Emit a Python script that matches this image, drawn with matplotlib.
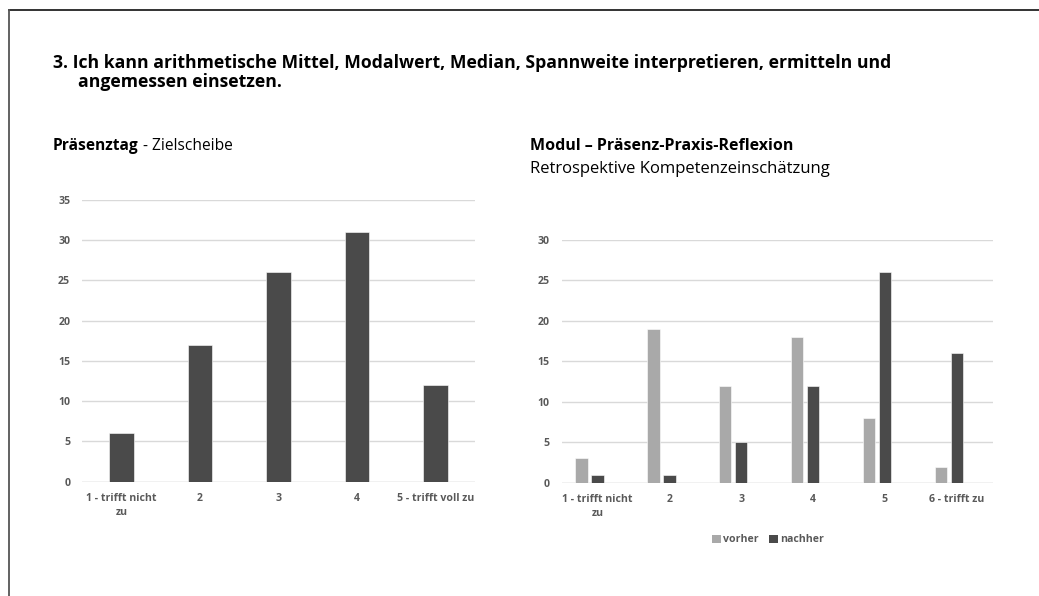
import matplotlib
matplotlib.use("Agg")
import matplotlib.pyplot as plt
import numpy as np
from matplotlib.patches import Patch
from matplotlib.lines import Line2D

plt.rcParams['font.family'] = ['Open Sans', 'DejaVu Sans']

# --- data ---------------------------------------------------------------
left_categories = ["1 - trifft nicht\nzu", "2", "3", "4", "5 - trifft voll zu"]
left_values = [6, 17, 26, 31, 12]

right_categories = ["1 - trifft nicht\nzu", "2", "3", "4", "5", "6 - trifft zu"]
vorher = [3, 19, 12, 18, 8, 2]
nachher = [1, 1, 5, 12, 26, 16]
series_names = ["vorher", "nachher"]

main_title_1 = "3. Ich kann arithmetische Mittel, Modalwert, Median, Spannweite interpretieren, ermitteln und"
main_title_2 = "angemessen einsetzen."

# --- styling ------------------------------------------------------------
W, H = 1039, 596
DARK = "#4a4a4a"
LIGHT = "#a9a9a9"
GRID = "#d9d9d9"
TICK = "#595959"
TICK_FS = 7.6

fig = plt.figure(figsize=(W / 100, H / 100), dpi=100)
fig.patch.set_facecolor("white")
renderer = fig.canvas.get_renderer()


def px_rect(x0, y_top, x1, y_bottom):
    return [x0 / W, 1 - y_bottom / H, (x1 - x0) / W, (y_bottom - y_top) / H]


def fitted_text(x_px, y_px, s, width_px, **kw):
    """Place text at pixel position and scale its size to a given pixel width."""
    t = fig.text(x_px / W, 1 - y_px / H, s, fontsize=10, va="baseline", ha="left", **kw)
    w = t.get_window_extent(renderer).width
    t.set_fontsize(10 * width_px / w)
    return t


def style_axes(ax, ymax, step):
    ax.set_ylim(0, ymax)
    ax.set_yticks(np.arange(0, ymax + 1, step))
    ax.yaxis.grid(True, color=GRID, linewidth=1.0)
    ax.set_axisbelow(True)
    for s in ax.spines.values():
        s.set_visible(False)
    ax.tick_params(axis="both", length=0, colors=TICK, labelsize=TICK_FS)
    ax.tick_params(axis="y", pad=8.5)
    ax.tick_params(axis="x", pad=8)
    for lab in ax.get_yticklabels() + ax.get_xticklabels():
        lab.set_fontweight("bold")
        lab.set_linespacing(1.4)
    ax.axhline(0, color=GRID, linewidth=1.0, zorder=1)


# left chart: single series
ax1 = fig.add_axes(px_rect(82, 200, 475, 481.7))
x1 = np.arange(len(left_categories))
ax1.bar(x1, left_values, width=0.315, color=DARK, edgecolor="white", linewidth=0.4, zorder=2)
ax1.set_xlim(-0.5, len(left_categories) - 0.5)
ax1.set_xticks(x1)
ax1.set_xticklabels(left_categories)
style_axes(ax1, 35, 5)

# right chart: grouped bars (third slot in each group stays empty)
ax2 = fig.add_axes(px_rect(561.7, 240, 992.7, 482.7))
x2 = np.arange(len(right_categories))
bw = 0.172
off = 0.223
ax2.bar(x2 - off, vorher, width=bw, color=LIGHT, edgecolor="white", linewidth=0.4, zorder=2)
ax2.bar(x2, nachher, width=bw, color=DARK, edgecolor="white", linewidth=0.4, zorder=2)
ax2.set_xlim(-0.5, len(right_categories) - 0.5)
ax2.set_xticks(x2)
ax2.set_xticklabels(right_categories)
style_axes(ax2, 30, 5)

handles = [Patch(facecolor=LIGHT, edgecolor="none"), Patch(facecolor=DARK, edgecolor="none")]
leg = fig.legend(handles, series_names, loc="center", bbox_to_anchor=(768 / W, 1 - 540 / H),
                 ncol=2, frameon=False, handlelength=0.85, handleheight=0.85,
                 handletextpad=0.25, columnspacing=0.9, fontsize=TICK_FS)
for t in leg.get_texts():
    t.set_color(TICK)
    t.set_fontweight("bold")

# frame lines on top and left
fig.add_artist(Line2D([9 / W, 1], [1 - 10 / H, 1 - 10 / H], color="#222222", linewidth=1.3))
fig.add_artist(Line2D([9 / W, 9 / W], [0, 1 - 10 / H], color="#555555", linewidth=1.3))

# titles
tt = fitted_text(53, 68, main_title_1, 841, fontweight="bold")
fig.text(78 / W, 1 - 87 / H, main_title_2, fontsize=tt.get_fontsize(), fontweight="bold",
         va="baseline", ha="left")

t1 = fig.text(53 / W, 1 - 150 / H, "Präsenztag", fontsize=9.5, fontweight="bold", va="baseline", ha="left")
t2 = fig.text(53 / W, 1 - 150 / H, " - Zielscheibe", fontsize=9.5, va="baseline", ha="left")
w_total = t1.get_window_extent(renderer).width + t2.get_window_extent(renderer).width
scale = (234 - 53) / w_total
t1.set_fontsize(9.5 * scale)
t2.set_fontsize(9.5 * scale)
bb = t1.get_window_extent(renderer)
t2.set_x(bb.x1 / W)

fitted_text(530, 150, "Modul – Präsenz-Praxis-Reflexion", 794 - 530, fontweight="bold")
fitted_text(530, 173, "Retrospektive Kompetenzeinschätzung", 831 - 530)

fig.savefig("out.png", dpi=100, facecolor="white")
